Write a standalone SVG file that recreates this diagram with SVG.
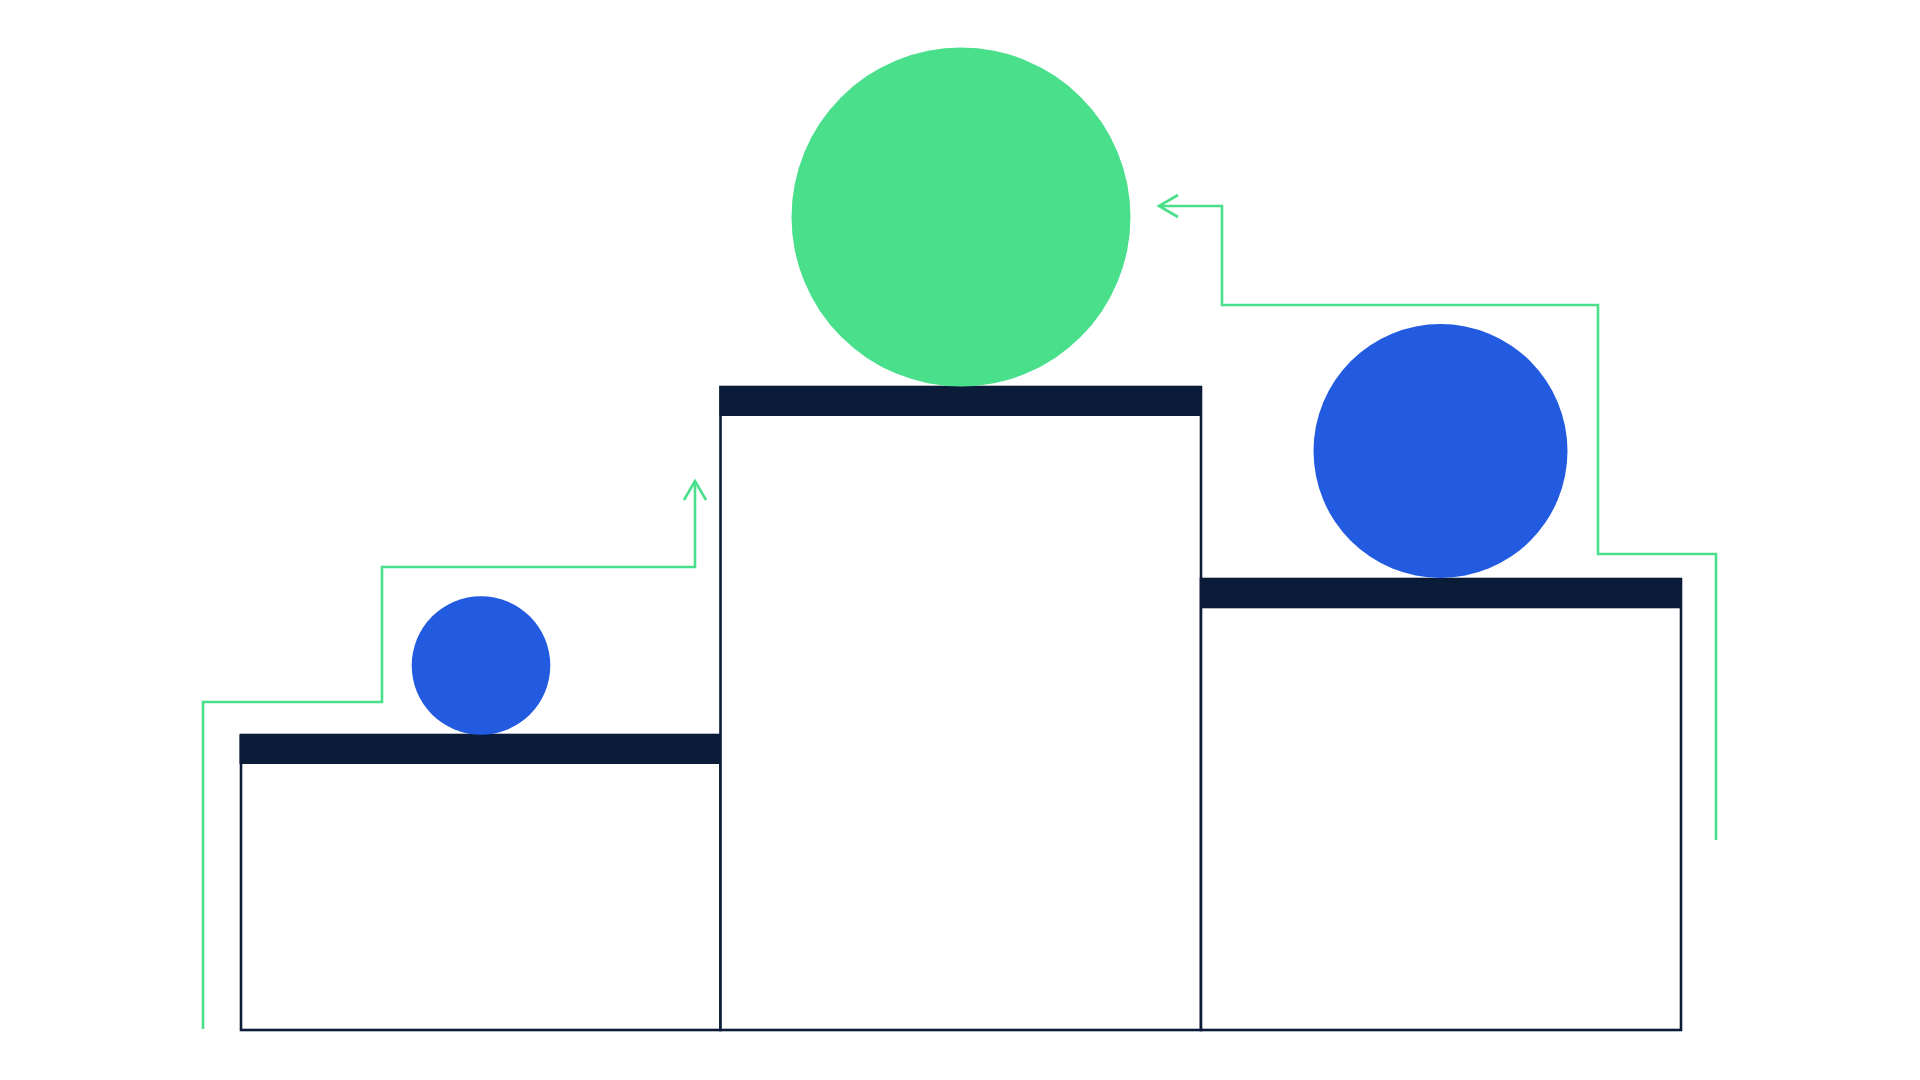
<svg xmlns="http://www.w3.org/2000/svg" width="1920" height="1080" viewBox="0 0 1920 1080">
<style>
.box{fill:#ffffff;stroke:#0b1c38;stroke-width:2.6}
.bar{fill:#0b1c38}
.link{fill:none;stroke:#4ae08b;stroke-width:2.6}
</style>
<rect width="1920" height="1080" fill="#ffffff"/>
<g id="connectors">
<path class="link" d="M203 1029 V702 H382 V567 H695 V481"/>
<path class="link" d="M684 500 L695 481 L706 500"/>
<path class="link" d="M1716 840 V554 H1598 V305 H1222 V206 H1159"/>
<path class="link" d="M1178 195 L1159 206 L1178 217"/>
</g>
<g id="podium-left">
<rect class="box" x="241" y="735" width="479.5" height="295"/>
<rect class="bar" x="239.5" y="734.5" width="482" height="29.5"/>
</g>
<g id="podium-middle">
<rect class="box" x="720.5" y="387" width="480.5" height="643"/>
<rect class="bar" x="719.5" y="386" width="482.5" height="30"/>
</g>
<g id="podium-right">
<rect class="box" x="1201" y="579" width="480" height="451"/>
<rect class="bar" x="1200" y="578.7" width="482" height="29.6"/>
</g>
<g id="ball-left">
<circle cx="481" cy="665.5" r="69.3" fill="#225be0"/>
</g>
<g id="ball-middle">
<circle cx="961" cy="217" r="169.5" fill="#4ae08b"/>
</g>
<g id="ball-right">
<circle cx="1440.5" cy="451" r="127" fill="#225be0"/>
</g>
</svg>
